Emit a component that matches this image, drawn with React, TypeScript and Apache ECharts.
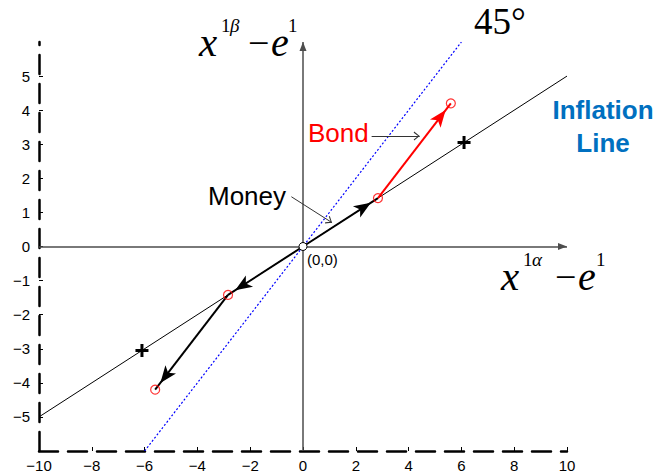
import React, { useEffect, useRef } from 'react';
import * as echarts from 'echarts';

// Axis ranges and tick steps
const xRange = [-10, 10];
const yRange = [-6, 6];
const xStep = 2;
const yStep = 1;

// Lines
const inflationLine = [[-10, -5], [10, 5]];
const line45 = [[-6, -6], [6, 6]];

// Points
const origin = [[0, 0]];
const moneyPoints = [[2.84, 1.42], [-2.84, -1.42]];
const bondPoints = [[5.6, 4.2], [-5.6, -4.2]];
const crossPoints = [[6.1, 3.05], [-6.1, -3.05]];

// Centre axes (with arrow heads) and annotation leaders
const centreAxes = [[[-10, 0], [10, 0]], [[0, -6], [0, 6]]];
const bondLeader = [[2.6, 3.24], [4.42, 3.24]];
const moneyLeader = [[-0.44, 1.46], [1.1, 0.7]];

const SANS = '"Liberation Sans", Arial, sans-serif';
const SERIF = '"Liberation Serif", "Times New Roman", serif';
const CHEVRON = 'path://M5,0 L10,9 L8.8,9.8 L5,2.6 L1.2,9.8 L0,9 Z';
const PLUS = 'path://M5,0H8V5H13V8H8V13H5V8H0V5H5Z';

const seg = (a: number[], b: number[], symbol: string, size: number[]) => [
  { coord: a, symbol: 'none' },
  { coord: b, symbol, symbolSize: size, symbolOffset: [0, size[1] / 2] },
];

const fmt = (v: number) => String(v).replace('-', '\u2212');

const txt = (text: string, x: number, y: number, size: number, extra: any = {}) => {
  const family = extra.fontFamily || SERIF;
  const fs = extra.fontStyle || 'normal';
  const fw = extra.fontWeight || 'normal';
  return {
    type: 'text',
    x,
    y,
    z: 100,
    silent: true,
    style: {
      text,
      font: `${fs} ${fw} ${size}px ${family}`,
      fill: '#000',
      align: 'left',
      verticalAlign: 'middle',
      ...extra,
      fontSize: size,
      fontFamily: family,
    },
  };
};

export default function App() {
  const ref = useRef<HTMLDivElement>(null);
  useEffect(() => {
    document.body.style.margin = '0';
    const chart = echarts.init(ref.current!, null, { renderer: 'svg' });
    const markBase = {
      type: 'line',
      data: [],
      silent: true,
    };
    chart.setOption({
      animation: false,
      backgroundColor: '#fff',
      grid: { left: 39, right: 89, top: 42, bottom: 25 },
      xAxis: {
        type: 'value',
        min: xRange[0],
        max: xRange[1],
        interval: xStep,
        axisLine: { onZero: false, lineStyle: { color: '#000', width: 2.5, type: [19, 10] } },
        axisTick: { inside: true, length: 4, lineStyle: { color: '#000', width: 1 } },
        axisLabel: { margin: 7, color: '#000', fontSize: 15, fontFamily: SANS, formatter: fmt },
        splitLine: { show: false },
      },
      yAxis: {
        type: 'value',
        min: yRange[0],
        max: yRange[1],
        interval: yStep,
        axisLine: { onZero: false, lineStyle: { color: '#000', width: 2.5, type: [19, 10] } },
        axisTick: { inside: true, length: 4, lineStyle: { color: '#000', width: 1 } },
        axisLabel: {
          margin: 9,
          color: '#000',
          fontSize: 15,
          fontFamily: SANS,
          formatter: fmt,
          showMinLabel: false,
          showMaxLabel: false,
        },
        splitLine: { show: false },
      },
      series: [
        {
          ...markBase,
          z: 1,
          markLine: {
            silent: true,
            label: { show: false },
            lineStyle: { color: '#4d4d4d', width: 1.5, type: 'solid' },
            data: centreAxes.map(([a, b]) => seg(a, b, 'triangle', [7, 9])),
          },
        },
        {
          type: 'line',
          z: 2,
          data: inflationLine,
          showSymbol: false,
          silent: true,
          lineStyle: { color: '#000', width: 1 },
        },
        {
          type: 'line',
          z: 2,
          data: line45,
          showSymbol: false,
          silent: true,
          lineStyle: { color: '#0000ff', width: 1.2, type: [2, 2] },
        },
        {
          ...markBase,
          z: 3,
          markLine: {
            silent: true,
            label: { show: false },
            lineStyle: { color: '#000', width: 2, type: 'solid' },
            data: [
              seg(origin[0], moneyPoints[0], 'arrow', [10, 17]),
              seg(origin[0], moneyPoints[1], 'arrow', [10, 17]),
              seg(moneyPoints[1], bondPoints[1], 'arrow', [10, 17]),
            ],
          },
        },
        {
          ...markBase,
          z: 3,
          markLine: {
            silent: true,
            label: { show: false },
            lineStyle: { color: '#ff0000', width: 2, type: 'solid' },
            data: [seg(moneyPoints[0], bondPoints[0], 'arrow', [10, 17])],
          },
        },
        {
          ...markBase,
          z: 3,
          markLine: {
            silent: true,
            label: { show: false },
            lineStyle: { color: '#333', width: 1, type: 'solid' },
            data: [
              seg(bondLeader[0], bondLeader[1], CHEVRON, [9, 6]),
              seg(moneyLeader[0], moneyLeader[1], CHEVRON, [9, 6]),
            ],
          },
        },
        {
          type: 'scatter',
          z: 5,
          silent: true,
          data: [...moneyPoints, ...bondPoints],
          symbol: 'circle',
          symbolSize: 9,
          itemStyle: { color: 'rgba(0,0,0,0)', borderColor: '#ff0000', borderWidth: 1.2 },
        },
        {
          type: 'scatter',
          z: 6,
          silent: true,
          data: origin,
          symbol: 'circle',
          symbolSize: 8,
          itemStyle: { color: '#fff', borderColor: '#000', borderWidth: 1, opacity: 1 },
        },
        {
          type: 'scatter',
          z: 5,
          silent: true,
          data: crossPoints,
          symbol: PLUS,
          symbolSize: 13,
          itemStyle: { color: '#000', opacity: 1 },
        },
      ],
      graphic: [
        // y-axis title  x^{1β} − e^1
        txt('x', 199, 42, 41, { fontStyle: 'italic' }),
        txt('1', 221, 25, 19),
        txt('β', 230, 25, 19, { fontStyle: 'italic' }),
        txt('\u2212', 248, 43, 38),
        txt('e', 271, 42, 40, { fontStyle: 'italic' }),
        txt('1', 288, 25, 19),
        // x-axis title  x^{1α} − e^1
        txt('x', 501, 276, 41, { fontStyle: 'italic' }),
        txt('1', 523, 259, 19),
        txt('α', 532, 259, 19, { fontStyle: 'italic' }),
        txt('\u2212', 555, 277, 38),
        txt('e', 578, 276, 40, { fontStyle: 'italic' }),
        txt('1', 596, 259, 19),
        // 45°
        txt('45°', 474, 21, 37),
        // labels
        txt('Bond', 308, 133, 26, { fontFamily: SANS, fill: '#ff0000' }),
        txt('Money', 208, 196, 26, { fontFamily: SANS }),
        txt('Inflation', 603, 110, 26, { fontFamily: SANS, fontWeight: 'bold', fill: '#0070c0', align: 'center' }),
        txt('Line', 603, 143, 26, { fontFamily: SANS, fontWeight: 'bold', fill: '#0070c0', align: 'center' }),
        txt('(0,0)', 307, 259, 15, { fontFamily: SANS }),
      ],
    });
    return () => chart.dispose();
  }, []);
  return <div ref={ref} style={{ width: 656, height: 476 }} />;
}
